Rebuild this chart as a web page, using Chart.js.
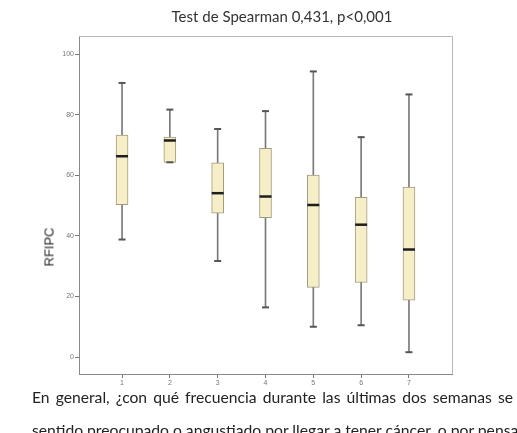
<!DOCTYPE html>
<html>
<head>
<meta charset="utf-8">
<script src="https://cdn.jsdelivr.net/npm/chart.js@4.4.1/dist/chart.umd.min.js"></script>
<style>
  html, body { margin: 0; padding: 0; background: #fff; }
  #wrap { position: relative; width: 517px; height: 433px; overflow: hidden; }
  #chart { position: absolute; left: 0; top: 0; }
  #title { position: absolute; left: 0; width: 564px; top: 7px; text-align: center;
           font: 15px Lato, sans-serif; color: #333; white-space: nowrap; }
  #ylab { position: absolute; left: 49px; top: 247px; transform: translate(-50%, -50%) rotate(-90deg);
          font: 13px "Liberation Sans", Arial, sans-serif; color: #2a2a2a; white-space: nowrap; }
  .cap { position: absolute; left: 32px; font: 15.7px Lato, sans-serif; color: #222; white-space: nowrap; }
  #cap1 { top: 388px; width: 481px; text-align: justify; text-align-last: justify; }
  #cap2 { top: 421px; }
</style>
</head>
<body>
<div id="wrap">
  <canvas id="chart" width="517" height="433"></canvas>
  <div id="title">Test de Spearman 0,431, p&lt;0,001</div>
  <div id="ylab">RFIPC</div>
  <div class="cap" id="cap1">En general, ¿con qué frecuencia durante las últimas dos semanas se</div>
  <div class="cap" id="cap2">sentido preocupado o angustiado por llegar a tener cáncer, o por pensar que</div>
</div>
<script>
// categories (x tick labels)
const categories = ['1', '2', '3', '4', '5', '6', '7'];
const y_ticks = [0, 20, 40, 60, 80, 100];

// box plot values
const whisker_low  = [38.8, 64.3, 31.7, 16.4, 10.0, 10.5, 1.6];
const q1           = [50.3, 64.3, 47.5, 46.0, 23.0, 24.6, 18.8];
const median       = [66.3, 71.5, 54.1, 53.0, 50.2, 43.7, 35.5];
const q3           = [73.3, 72.6, 64.1, 68.9, 60.1, 52.7, 56.1];
const whisker_high = [90.5, 81.7, 75.3, 81.2, 94.3, 72.6, 86.7];

const box_data = categories.map((c, i) => ({x: i + 1, y: [q1[i], q3[i]]}));
const whisker_data = categories.map((c, i) => ({x: i + 1, y: [whisker_low[i], whisker_high[i]]}));
const median_data = categories.map((c, i) => ({x: i + 1, y: median[i]}));
const cap_data = [];
categories.forEach((c, i) => {
    cap_data.push({x: i + 1, y: whisker_high[i]});
    cap_data.push({x: i + 1, y: whisker_low[i]});
});

// light frame on top and right of the plot
const framePlugin = {
    id: 'frame',
    beforeDatasetsDraw(chart) {
        const a = chart.chartArea;
        const ctx = chart.ctx;
        ctx.save();
        ctx.strokeStyle = '#b8b8b8';
        ctx.lineWidth = 1;
        ctx.beginPath();
        ctx.moveTo(a.left, a.top + 0.5);
        ctx.lineTo(a.right + 0.5, a.top + 0.5);
        ctx.lineTo(a.right + 0.5, a.bottom);
        ctx.stroke();
        ctx.restore();
    }
};

const ctx = document.getElementById('chart').getContext('2d');
new Chart(ctx, {
    type: 'bar',
    data: {
        datasets: [{
            label: 'whiskers',
            data: whisker_data,
            backgroundColor: '#7a7a7a',
            barThickness: 1,
            grouped: false,
            order: 4
        }, {
            label: 'boxes',
            data: box_data,
            backgroundColor: '#f5eec6',
            borderColor: '#a39b80',
            borderWidth: 1,
            borderSkipped: false,
            barThickness: 12,
            grouped: false,
            order: 3
        }, {
            type: 'scatter',
            label: 'caps',
            data: cap_data,
            pointStyle: 'line',
            pointRadius: 3.5,
            borderWidth: 2,
            borderColor: '#555',
            order: 2
        }, {
            type: 'scatter',
            label: 'median',
            data: median_data,
            pointStyle: 'line',
            pointRadius: 6,
            borderWidth: 2.5,
            borderColor: '#1e1e1e',
            order: 1
        }]
    },
    options: {
        responsive: false,
        animation: false,
        events: [],
        layout: {
            padding: {left: 36, right: 65, top: 36, bottom: 39}
        },
        plugins: {
            legend: {display: false},
            tooltip: {enabled: false}
        },
        scales: {
            x: {
                type: 'linear',
                offset: false,
                min: 0.1,
                max: 7.9,
                afterBuildTicks: scale => {
                    scale.ticks = categories.map((c, i) => ({value: i + 1}));
                },
                afterFit: scale => { scale.height = 20; },
                ticks: {
                    callback: v => categories[v - 1],
                    font: {family: 'Liberation Sans', size: 7},
                    color: '#777',
                    padding: 1,
                    maxRotation: 0
                },
                grid: {offset: false, drawOnChartArea: false, tickLength: 4, tickColor: '#777'},
                border: {color: '#8a8a8a'}
            },
            y: {
                type: 'linear',
                min: -5.6,
                max: 106,
                afterBuildTicks: scale => {
                    scale.ticks = y_ticks.map(v => ({value: v}));
                },
                afterFit: scale => { scale.width = 43; },
                ticks: {
                    font: {family: 'Liberation Sans', size: 7},
                    color: '#777',
                    padding: 1
                },
                grid: {drawOnChartArea: false, tickLength: 4, tickColor: '#777'},
                border: {color: '#8a8a8a'}
            }
        }
    },
    plugins: [framePlugin]
});
</script>
</body>
</html>
